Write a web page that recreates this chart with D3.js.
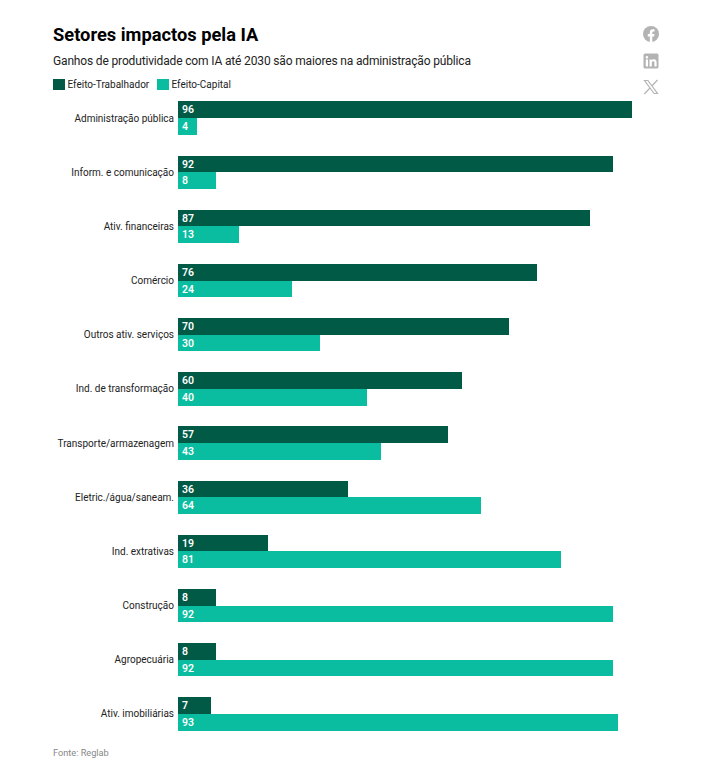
<!DOCTYPE html>
<html>
<head>
<meta charset="utf-8">
<script src="https://cdn.jsdelivr.net/npm/d3@7"></script>
<style>
    html, body { margin: 0; padding: 0; background: #fff; }
    svg { display: block; font-family: Roboto, sans-serif; }
    .cat { font-size: 10px; fill: #222; }
    .val { font-size: 10.5px; font-weight: 600; fill: #fff; }
</style>
</head>
<body>
<div id="chart"></div>
<script>
const categories = ["Administração pública", "Inform. e comunicação", "Ativ. financeiras", "Comércio",
    "Outros ativ. serviços", "Ind. de transformação", "Transporte/armazenagem", "Eletric./água/saneam.",
    "Ind. extrativas", "Construção", "Agropecuária", "Ativ. imobiliárias"];
const trabalhador = [96, 92, 87, 76, 70, 60, 57, 36, 19, 8, 8, 7];
const capital = [4, 8, 13, 24, 30, 40, 43, 64, 81, 92, 92, 93];
const seriesNames = ["Efeito-Trabalhador", "Efeito-Capital"];
const seriesColors = ["#005a46", "#0abda0"];

const svg = d3.select("#chart").append("svg").attr("width", 704).attr("height", 758);

svg.append("text").attr("x", 53).attr("y", 41)
    .style("font-size", "18.3px").style("font-weight", 700).style("fill", "#000")
    .text("Setores impactos pela IA");
svg.append("text").attr("x", 53).attr("y", 65)
    .style("font-size", "12px").style("letter-spacing", "-0.155px").style("fill", "#222")
    .text("Ganhos de produtividade com IA até 2030 são maiores na administração pública");

// legend
const legendX = [53, 157];
seriesNames.forEach((name, i) => {
    svg.append("rect").attr("x", legendX[i]).attr("y", 79).attr("width", 12).attr("height", 11).attr("fill", seriesColors[i]);
    svg.append("text").attr("x", legendX[i] + 14.5).attr("y", 87.5)
        .style("font-size", "10px").style("fill", "#222").text(name);
});

const x = d3.scaleLinear().domain([0, 100]).range([178, 651]);
const y = d3.scaleBand().domain(categories).range([101.4, 730.6]).paddingInner(0.382).paddingOuter(0);
const inner = d3.scaleBand().domain(seriesNames).range([0, y.bandwidth()]);

const rows = categories.map((c, i) => ({ cat: c, values: [trabalhador[i], capital[i]] }));

const groups = svg.selectAll("g.row").data(rows).enter().append("g")
    .attr("class", "row")
    .attr("transform", d => `translate(0, ${y(d.cat)})`);

groups.append("text")
    .attr("class", "cat")
    .attr("x", 174)
    .attr("y", y.bandwidth() / 2)
    .attr("dy", "0.35em")
    .attr("text-anchor", "end")
    .text(d => d.cat);

seriesNames.forEach((name, s) => {
    groups.append("rect")
        .attr("x", x(0))
        .attr("y", inner(name))
        .attr("width", d => x(d.values[s]) - x(0))
        .attr("height", inner.bandwidth())
        .attr("shape-rendering", "crispEdges")
        .attr("fill", seriesColors[s]);
    groups.append("text")
        .attr("class", "val")
        .attr("x", x(0) + 4)
        .attr("y", inner(name) + inner.bandwidth() / 2)
        .attr("dy", "0.35em")
        .text(d => d.values[s]);
});

svg.append("text").attr("x", 53).attr("y", 756)
    .style("font-size", "9.2px").style("fill", "#888").text("Fonte: Reglab");

// share icons
const icons = svg.append("g").attr("fill", "#b3b3b3");
icons.append("circle").attr("cx", 651).attr("cy", 34).attr("r", 8);
icons.append("path").attr("fill", "#fff")
    .attr("d", "M649.8 42v-5.6h-2v-2.3h2v-1.8c0-2 1.2-3.1 3-3.1.9 0 1.8.2 1.8.2v2h-1c-1 0-1.3.6-1.3 1.2v1.5h2.2l-.4 2.3h-1.8V42z");
icons.append("rect").attr("x", 643.5).attr("y", 53.5).attr("width", 15).attr("height", 15).attr("rx", 1.5);
icons.append("path").attr("fill", "#fff")
    .attr("d", "M645.8 59.5h2.2v7h-2.2zM646.9 56c.7 0 1.3.6 1.3 1.3s-.6 1.3-1.3 1.3-1.3-.6-1.3-1.3.6-1.3 1.3-1.3zM649.5 59.5h2.1v1c.4-.7 1.2-1.2 2.3-1.2 2.2 0 2.7 1.4 2.7 3.4v3.8h-2.2v-3.4c0-.9 0-1.9-1.2-1.9s-1.4.9-1.4 1.9v3.4h-2.3z");
icons.append("path").attr("fill", "none").attr("stroke", "#b3b3b3").attr("stroke-width", 1.2)
    .attr("d", "M644.5 80.5h3.4l9.6 13h-3.4zM657.5 80l-5.7 6M650 88l-5.7 6");
</script>
</body>
</html>
